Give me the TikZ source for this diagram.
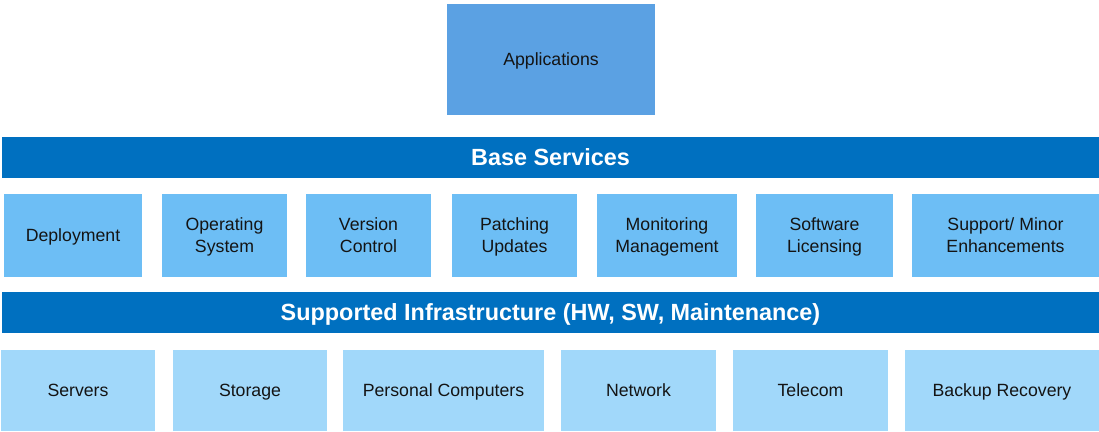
\documentclass[tikz,border=0pt]{standalone}
\usepackage{fontspec}
\setmainfont{Liberation Sans}
\definecolor{appblue}{HTML}{5BA1E3}
\definecolor{barblue}{HTML}{0070C0}
\definecolor{midblue}{HTML}{6DBEF5}
\definecolor{lowblue}{HTML}{A1D8FA}
\definecolor{txt}{HTML}{141414}
\begin{document}
\begin{tikzpicture}[x=1pt,y=-1pt,
  box/.style={inner sep=0pt, outer sep=0pt, align=center, text=txt,
    font=\fontsize{17.7}{21.7}\selectfont},
  one/.style={text height=12.6pt, text depth=0pt},
  two/.style={text height=34.3pt, text depth=0pt},
  appbox/.style={box, one, fill=appblue},
  midbox/.style={box, fill=midblue, minimum height=83pt},
  lowbox/.style={box, one, fill=lowblue, minimum height=81pt},
  barbox/.style={inner sep=0pt, outer sep=0pt, fill=barblue, text=white,
    minimum width=1097pt, minimum height=41pt, text height=16.7pt, text depth=0pt,
    font=\fontsize{23.4}{26}\selectfont\bfseries}]
\useasboundingbox (0,0) rectangle (1099,431);
\node[appbox, minimum width=208pt, minimum height=111pt] (app) at (551,59.5) {Applications};
\node[barbox] (base) at (550.5,157.5) {Base Services};
\node[midbox, one, minimum width=138pt] (dep) at (73,235.5) {Deployment};
\node[midbox, two, minimum width=125pt] (os) at (224.5,235.5) {Operating\\System};
\node[midbox, two, minimum width=125pt] (vc) at (368.5,235.5) {Version\\Control};
\node[midbox, two, minimum width=125pt] (pu) at (514.5,235.5) {Patching\\Updates};
\node[midbox, two, minimum width=140pt] (mm) at (667,235.5) {Monitoring\\Management};
\node[midbox, two, minimum width=137pt] (sl) at (824.5,235.5) {Software\\Licensing};
\node[midbox, two, minimum width=187pt] (sm) at (1005.5,235.5) {Support/ Minor\\Enhancements};
\node[barbox] (infra) at (550.5,312.5) {Supported Infrastructure (HW, SW, Maintenance)};
\node[lowbox, minimum width=154pt] (srv) at (78,390.5) {Servers};
\node[lowbox, minimum width=154pt] (sto) at (250,390.5) {Storage};
\node[lowbox, minimum width=201pt] (pc) at (443.5,390.5) {Personal Computers};
\node[lowbox, minimum width=155pt] (net) at (638.5,390.5) {Network};
\node[lowbox, minimum width=155pt] (tel) at (810.5,390.5) {Telecom};
\node[lowbox, minimum width=194pt] (bak) at (1002,390.5) {Backup Recovery};
\end{tikzpicture}
\end{document}
